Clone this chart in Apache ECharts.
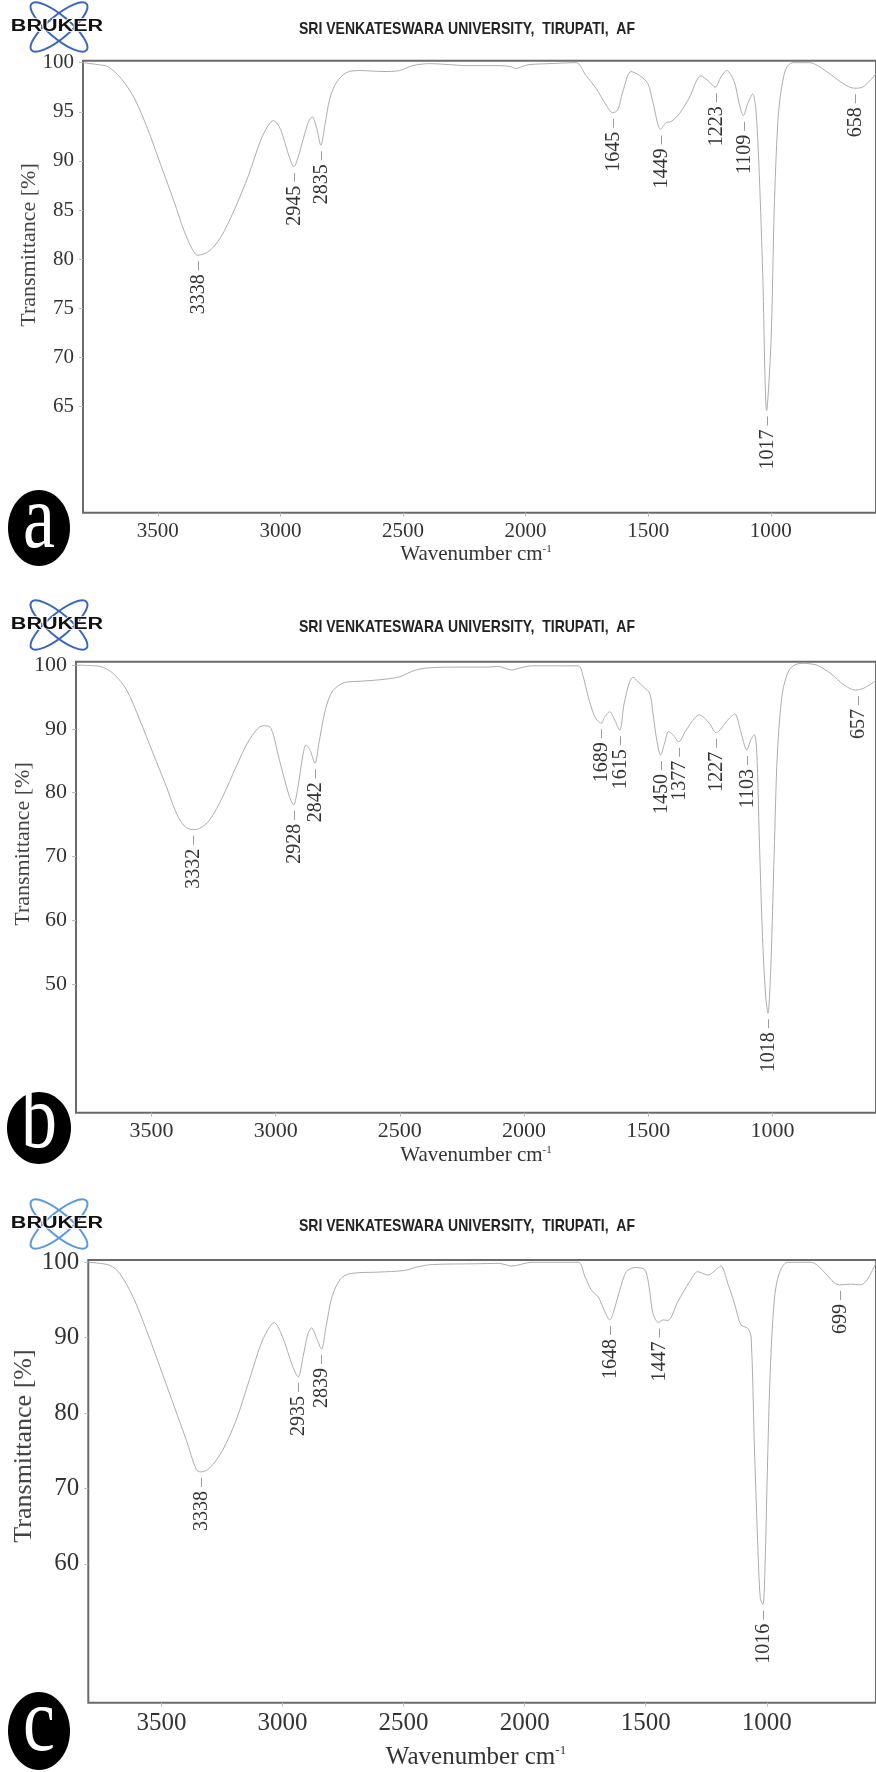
<!DOCTYPE html>
<html>
<head>
<meta charset="utf-8">
<title>FTIR spectra</title>
<script src="https://cdn.jsdelivr.net/npm/echarts@6/dist/echarts.min.js"></script>
<style>
  html, body { margin: 0; padding: 0; background: #fff; }
  #chart { width: 876px; height: 1772px; }
</style>
</head>
<body>
<div id="chart"></div>
<script>
// spectra: [wavenumber, transmittance %]
const spectrumA = [
  [3805, 100], [3745, 99.8], [3704, 99.6], [3650, 98.4], [3596, 96.4], [3542, 93.3],
  [3488, 89.6], [3434, 85.9], [3393, 82.9], [3359, 81.0], [3338, 80.4], [3292, 80.8],
  [3244, 82.2], [3190, 84.9], [3129, 88.6], [3082, 92.0], [3050, 93.6], [3028, 94.1],
  [3005, 93.5], [2987, 92.3], [2965, 90.5], [2945, 89.4], [2925, 90.6], [2906, 92.3],
  [2885, 94.0], [2870, 94.5], [2852, 93.3], [2835, 91.6], [2818, 93.7], [2798, 96.4],
  [2771, 98.0], [2730, 99.0], [2676, 99.2], [2582, 99.1], [2514, 99.2], [2460, 99.7],
  [2392, 99.9], [2311, 99.8], [2243, 99.7], [2108, 99.7], [2060, 99.6], [2040, 99.4],
  [2015, 99.6], [1986, 99.8], [1905, 99.9], [1794, 100], [1754, 98.7], [1713, 97.4],
  [1672, 95.7], [1645, 94.9], [1624, 95.2], [1604, 97.0], [1570, 99.1], [1536, 98.7],
  [1502, 97.9], [1481, 96.0], [1449, 93.2], [1427, 93.9], [1407, 94.0], [1373, 94.8],
  [1333, 96.4], [1285, 98.65], [1251, 98.05], [1227, 97.5], [1203, 98.55], [1180, 99.2],
  [1149, 98.05], [1129, 95.85], [1112, 94.6], [1094, 95.85], [1074, 96.8], [1061, 95.3],
  [1047, 88.6], [1033, 78.5], [1017, 64.6], [999, 71.7], [986, 85.2], [972, 93.7],
  [959, 97.0], [938, 99.4], [911, 100], [843, 100], [816, 99.8], [761, 98.9],
  [707, 97.9], [660, 97.4], [626, 97.5], [571, 98.9]
];
const spectrumB = [
  [3804, 100], [3707, 99.8], [3654, 98.7], [3600, 96.1], [3547, 91.4], [3494, 86.2],
  [3440, 80.95], [3400, 76.8], [3366, 74.7], [3332, 74.2], [3306, 74.4], [3266, 75.7],
  [3213, 79.4], [3159, 84.1], [3106, 88.3], [3052, 90.5], [3025, 90.4], [2985, 85.1],
  [2945, 79.4], [2928, 78.1], [2910, 81.0], [2890, 86.0], [2878, 87.5], [2860, 86.5],
  [2842, 84.6], [2825, 88.0], [2800, 93.0], [2770, 96.0], [2720, 97.3], [2650, 97.5],
  [2560, 97.8], [2500, 98.2], [2440, 99.2], [2380, 99.6], [2250, 99.7], [2150, 99.7],
  [2103, 99.8], [2050, 99.25], [2023, 99.5], [1969, 99.9], [1782, 99.9], [1762, 98.2],
  [1742, 95.1], [1715, 91.9], [1689, 90.9], [1675, 91.9], [1655, 92.7], [1635, 91.4],
  [1615, 89.8], [1597, 94.0], [1575, 97.4], [1561, 98.1], [1541, 97.4], [1514, 96.4],
  [1494, 95.6], [1481, 92.5], [1468, 88.8], [1450, 85.9], [1434, 87.8], [1418, 89.6],
  [1401, 89.1], [1377, 88.0], [1348, 89.8], [1294, 92.2], [1254, 90.9], [1227, 89.4],
  [1180, 91.4], [1151, 92.35], [1129, 89.8], [1103, 86.7], [1087, 88.3], [1073, 89.1],
  [1063, 86.2], [1053, 73.1], [1040, 57.4], [1027, 48.0], [1018, 45.4], [1007, 52.2],
  [993, 70.5], [980, 86.2], [960, 95.6], [933, 99.25], [900, 100.2], [870, 100.3],
  [846, 100.2], [820, 100], [766, 98.7], [712, 96.9], [666, 96.1], [632, 96.4], [583, 97.6]
];
const spectrumC = [
  [3802, 100], [3713, 99.6], [3672, 98.5], [3617, 95.4], [3562, 91.0], [3507, 86.2],
  [3452, 81.3], [3397, 76.4], [3356, 72.5], [3338, 72.2], [3301, 72.7], [3247, 75.1],
  [3191, 79.1], [3137, 84.4], [3082, 89.7], [3034, 92.0], [3000, 90.1], [2958, 86.2],
  [2935, 84.8], [2915, 87.5], [2895, 90.5], [2880, 91.3], [2860, 90.0], [2839, 88.5],
  [2820, 91.5], [2795, 95.5], [2760, 97.8], [2720, 98.5], [2600, 98.7], [2500, 98.9],
  [2440, 99.4], [2380, 99.7], [2200, 99.8], [2108, 99.85], [2053, 99.5], [1971, 100],
  [1779, 100], [1751, 98.1], [1724, 96.3], [1696, 95.4], [1669, 93.45], [1648, 92.35],
  [1635, 93.2], [1607, 96.3], [1580, 98.75], [1545, 99.3], [1504, 99.0], [1484, 96.3],
  [1470, 93.2], [1447, 92.0], [1429, 92.35], [1408, 92.3], [1367, 94.8], [1319, 97.4],
  [1285, 98.75], [1244, 98.3], [1203, 99.2], [1189, 99.5], [1161, 97.2], [1134, 94.6],
  [1107, 91.7], [1079, 91.25], [1065, 90.1], [1052, 76.4], [1038, 63.2], [1027, 55.5],
  [1016, 54.6], [1007, 60.0], [998, 72.0], [986, 85.3], [969, 95.0], [949, 98.5],
  [914, 100], [818, 100], [791, 99.6], [757, 98.5], [722, 97.3], [699, 97.0],
  [654, 97.1], [613, 97.0], [586, 97.65], [549, 99.9]
];

// labelled peaks: [wavenumber, transmittance at the band]
const peaksA = [[3338, 80.4], [2945, 89.4], [2835, 91.6], [1645, 94.9], [1449, 93.2],
  [1223, 97.5], [1109, 94.6], [1017, 64.6], [658, 97.4]];
const peaksB = [[3332, 74.2], [2928, 78.1], [2842, 84.6], [1689, 90.9], [1615, 89.8],
  [1450, 85.9], [1377, 88.0], [1227, 89.4], [1103, 86.7], [1018, 45.4], [657, 96.1]];
const peaksC = [[3338, 72.2], [2935, 84.8], [2839, 88.5], [1648, 92.35], [1447, 92.0],
  [1016, 54.6], [699, 97.0]];

// tick labels
const xTicks = [1000, 1500, 2000, 2500, 3000, 3500];
const yTicksA = [65, 70, 75, 80, 85, 90, 95, 100];
const yTicksB = [50, 60, 70, 80, 90, 100];
const yTicksC = [60, 70, 80, 90, 100];

const header = 'SRI VENKATESWARA UNIVERSITY,  TIRUPATI,  AF';
const serif = '"Liberation Serif", "DejaVu Serif", serif';

const chart = echarts.init(document.getElementById('chart'));

// one panel = grid + axes
const panels = [
  { top: 60.7, height: 452, left: 83, xMin: 571, xMax: 3805, yMin: 54.2, yMax: 100.2, yTicks: yTicksA, font: 21 },
  { top: 661.7, height: 451, left: 76, xMin: 583, xMax: 3804, yMin: 29.8, yMax: 100.55, yTicks: yTicksB, font: 22 },
  { top: 1260, height: 442.7, left: 88.3, xMin: 549, xMax: 3802, yMin: 41.6, yMax: 100.3, yTicks: yTicksC, font: 25 }
];

const grid = panels.map(p => ({
  left: p.left, top: p.top, height: p.height, right: -3,
  show: true, borderColor: '#6a6a6a', borderWidth: 2, backgroundColor: 'transparent'
}));

const xAxis = panels.map((p, i) => ({
  type: 'value', gridIndex: i, inverse: true, min: p.xMin, max: p.xMax,
  axisLine: { show: false },
  splitLine: { show: false },
  axisTick: { show: true, length: 4, lineStyle: { color: '#bbb' }, customValues: xTicks },
  axisLabel: { customValues: xTicks, formatter: v => String(v), color: '#333',
               fontFamily: serif, fontSize: p.font, margin: 8 }
}));

const yAxis = panels.map((p, i) => ({
  type: 'value', gridIndex: i, min: p.yMin, max: p.yMax,
  axisLine: { show: false },
  splitLine: { show: false },
  axisTick: { show: true, length: 4, lineStyle: { color: '#bbb' }, customValues: p.yTicks },
  axisLabel: { customValues: p.yTicks, formatter: v => String(v), color: '#333',
               fontFamily: serif, fontSize: p.font, margin: 9 }
}));

const lineSeries = (data, i) => ({
  type: 'line', xAxisIndex: i, yAxisIndex: i, data: data,
  showSymbol: false, smooth: 0.3, silent: true,
  lineStyle: { color: '#acacac', width: 1 }
});

// peak marker: short tick under the band plus rotated wavenumber
const peakSeries = (data, i) => ({
  type: 'custom', xAxisIndex: i, yAxisIndex: i, data: data, clip: false, silent: true,
  renderItem: (params, api) => {
    const p = api.coord([api.value(0), api.value(1)]);
    const x = Math.round(p[0]) + 0.5;
    return {
      type: 'group',
      children: [
        { type: 'line', shape: { x1: x, y1: p[1] + 6, x2: x, y2: p[1] + 15 },
          style: { stroke: '#9a9a9a', lineWidth: 1 } },
        { type: 'text', x: x, y: p[1] + 19, rotation: Math.PI / 2,
          style: { text: String(api.value(0)), fill: '#333', font: '20px ' + serif,
                   align: 'right', verticalAlign: 'middle' } }
      ]
    };
  }
});

// logo, header, panel letter, axis titles
const logo = (cx, cy, blue) => ([
  { type: 'ellipse', shape: { cx: 0, cy: 0, rx: 36, ry: 11 }, x: cx + 2, y: cy, rotation: 0.7,
    style: { fill: 'none', stroke: blue, lineWidth: 2 } },
  { type: 'ellipse', shape: { cx: 0, cy: 0, rx: 36, ry: 11 }, x: cx + 2, y: cy, rotation: -0.7,
    style: { fill: 'none', stroke: blue, lineWidth: 2 } },
  { type: 'text', x: cx, y: cy, scaleX: 1.35,
    style: { text: 'BRUKER', font: 'bold 16px "Liberation Sans", Arial, sans-serif', fill: '#111',
             align: 'center', verticalAlign: 'middle', stroke: '#fff', lineWidth: 1.5 } }
]);

const panelTexts = (y0, badge, letter, wavY, yTitle, font) => ([
  ...logo(57, y0, y0 > 1000 ? '#5b98dc' : '#3b67b8'),
  { type: 'text', x: 467, y: y0 + 2, scaleY: 1.2,
    style: { text: header, font: 'bold 14px "Liberation Sans", Arial, sans-serif', fill: '#222',
             align: 'center', verticalAlign: 'middle' } },
  { type: 'ellipse', shape: { cx: badge[0], cy: badge[1], rx: badge[2], ry: badge[3] },
    style: { fill: '#000' } },
  { type: 'text', x: badge[0], y: badge[1] - 5, scaleY: 1.25,
    style: { text: letter, font: '72px ' + serif, fill: '#fff', align: 'center', verticalAlign: 'middle' } },
  { type: 'text', x: 476, y: wavY,
    style: { text: '{n|Wavenumber cm}{s|-1}', fill: '#333', align: 'center', verticalAlign: 'middle',
             rich: { n: { font: font + 'px ' + serif, fill: '#333' },
                     s: { font: Math.round(font * 0.5) + 'px ' + serif, fill: '#333', verticalAlign: 'top' } } } },
  { type: 'text', x: yTitle[0], y: yTitle[1], rotation: Math.PI / 2,
    style: { text: 'Transmittance [%]', font: (font + 1) + 'px ' + serif, fill: '#444',
             align: 'center', verticalAlign: 'middle' } }
]);

const graphic = [
  ...panelTexts(27, [39, 528, 31, 38], 'a', 554, [29, 245], 21),
  ...panelTexts(625, [39, 1128, 32, 36], 'b', 1155, [23, 844], 21),
  ...panelTexts(1224, [39, 1731, 31, 39], 'c', 1757, [24, 1446], 25)
];

chart.setOption({
  backgroundColor: '#fff',
  animation: false,
  grid: grid,
  xAxis: xAxis,
  yAxis: yAxis,
  graphic: graphic,
  series: [
    lineSeries(spectrumA, 0), lineSeries(spectrumB, 1), lineSeries(spectrumC, 2),
    peakSeries(peaksA, 0), peakSeries(peaksB, 1), peakSeries(peaksC, 2)
  ]
});
</script>
</body>
</html>
